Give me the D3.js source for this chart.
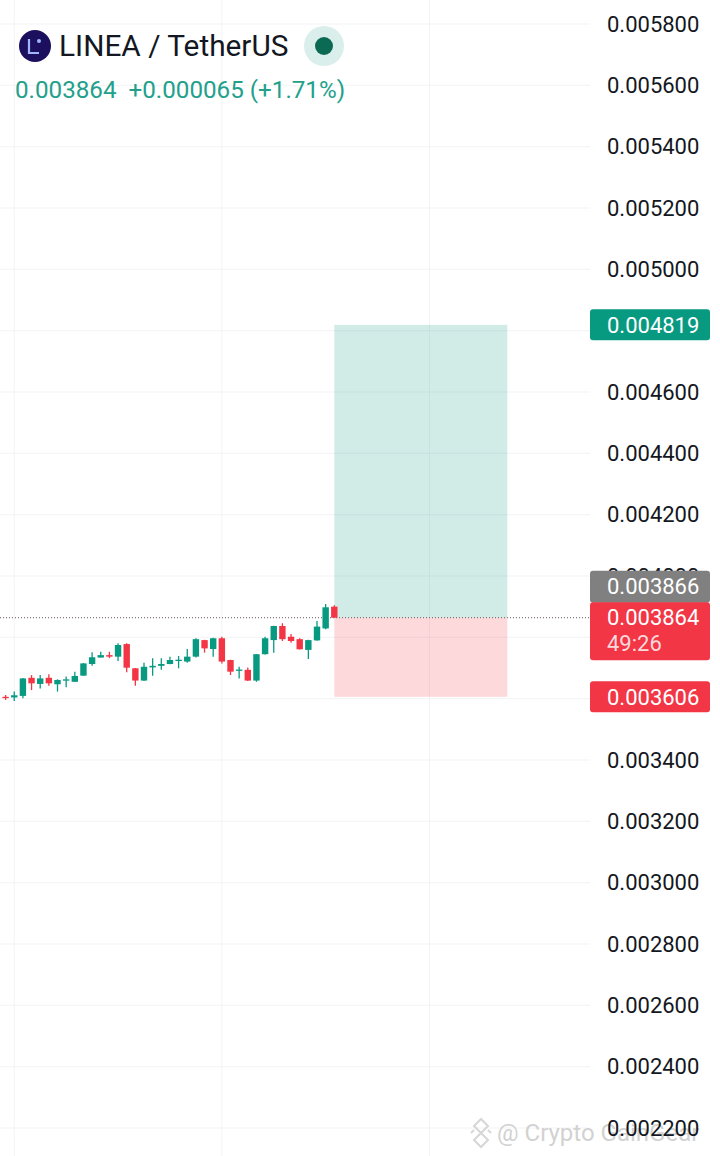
<!DOCTYPE html>
<html>
<head>
<meta charset="utf-8">
<script src="https://cdn.jsdelivr.net/npm/d3@7"></script>
<style>
  html, body { margin: 0; padding: 0; background: #fff; }
  svg { display: block; font-family: Roboto, "Noto Sans", sans-serif; }
</style>
</head>
<body>
<svg id="chart" width="720" height="1156"></svg>
<script>
// hourly candles
const opens  = [0.003606, 0.003604, 0.003609, 0.003668, 0.003648, 0.003668, 0.003647, 0.003661, 0.003655, 0.003675,
                0.003713, 0.003734, 0.003742, 0.003737, 0.003778, 0.003699, 0.003659, 0.003702, 0.003707, 0.003713,
                0.003725, 0.003721, 0.003737, 0.003791, 0.003762, 0.003797, 0.003726, 0.003693, 0.003694, 0.003659,
                0.003745, 0.003791, 0.003837, 0.003802, 0.003794, 0.003759, 0.003790, 0.003829, 0.003900];
const highs  = [0.003612, 0.003623, 0.003667, 0.003677, 0.003677, 0.003680, 0.003663, 0.003672, 0.003688, 0.003716,
                0.003751, 0.003753, 0.003753, 0.003781, 0.003781, 0.003700, 0.003717, 0.003732, 0.003732, 0.003737,
                0.003739, 0.003762, 0.003797, 0.003792, 0.003799, 0.003802, 0.003727, 0.003704, 0.003702, 0.003745,
                0.003802, 0.003838, 0.003846, 0.003811, 0.003797, 0.003792, 0.003853, 0.003909, 0.003905];
const lows   = [0.003596, 0.003592, 0.003601, 0.003628, 0.003633, 0.003642, 0.003623, 0.003637, 0.003655, 0.003675,
                0.003707, 0.003734, 0.003732, 0.003723, 0.003686, 0.003642, 0.003658, 0.003675, 0.003694, 0.003712,
                0.003699, 0.003717, 0.003734, 0.003750, 0.003737, 0.003715, 0.003677, 0.003666, 0.003658, 0.003655,
                0.003744, 0.003750, 0.003788, 0.003782, 0.003760, 0.003729, 0.003789, 0.003826, 0.003864];
const closes = [0.003604, 0.003611, 0.003666, 0.003650, 0.003666, 0.003650, 0.003661, 0.003663, 0.003674, 0.003715,
                0.003735, 0.003742, 0.003737, 0.003775, 0.003701, 0.003659, 0.003704, 0.003707, 0.003713, 0.003726,
                0.003727, 0.003737, 0.003794, 0.003764, 0.003797, 0.003721, 0.003688, 0.003695, 0.003659, 0.003745,
                0.003797, 0.003837, 0.003794, 0.003788, 0.003761, 0.003791, 0.003835, 0.003898, 0.003864];

const priceTicks = [0.0022, 0.0024, 0.0026, 0.0028, 0.0030, 0.0032, 0.0034, 0.0036, 0.0038, 0.0040,
                    0.0042, 0.0044, 0.0046, 0.0048, 0.0050, 0.0052, 0.0054, 0.0056, 0.0058];
// ticks that sit fully under a price label are not shown
const hiddenTicks = [0.0036, 0.0038, 0.0048];
const dayLines = [1, 25, 49];

// long position tool
const entryPrice = 0.003864;
const targetPrice = 0.004819;
const stopPrice = 0.003606;
const positionFrom = 38, positionTo = 58;

const lastPrice = 0.003864, prevLabel = 0.003866, countdown = "49:26";
const pairTitle = "LINEA / TetherUS";
const headerQuote = ["0.003864", "+0.000065 (+1.71%)"];

const green = "#089981", red = "#f23645";
const paneRight = 590;

const svg = d3.select("#chart");
const x = d3.scaleLinear().domain([0, 38]).range([5.6, 334.3]);
const y = d3.scaleLinear().domain([0.0022, 0.0058]).range([1128, 24]);

// grid
const grid = svg.append("g");
grid.selectAll("line.h").data(priceTicks).join("line")
    .attr("x1", 0).attr("x2", paneRight)
    .attr("y1", d => y(d)).attr("y2", d => y(d))
    .attr("stroke", "#f2f3f6").attr("stroke-width", 1);
grid.selectAll("line.v").data(dayLines).join("line")
    .attr("x1", d => x(d)).attr("x2", d => x(d))
    .attr("y1", 0).attr("y2", 1156)
    .attr("stroke", "#f2f3f6").attr("stroke-width", 1);

// watermark
const wm = svg.append("g").attr("fill", "none").attr("stroke", "#d6d6d6").attr("stroke-width", 2);
wm.append("path").attr("d", "M481,1119 L488,1126 L481,1133 L474,1126 Z M481,1133 L488,1140 L481,1147 L474,1140 Z M471,1133 L474,1130 M491,1133 L488,1130");
svg.append("text").attr("x", 497).attr("y", 1141)
    .attr("font-size", 24).attr("fill", "#d2d2d2")
    .text("@ Crypto GainGear");

// position box
const pos = svg.append("g");
pos.append("rect")
    .attr("x", x(positionFrom)).attr("width", x(positionTo) - x(positionFrom))
    .attr("y", y(targetPrice)).attr("height", y(entryPrice) - y(targetPrice))
    .attr("fill", green).attr("fill-opacity", 0.19);
pos.append("rect")
    .attr("x", x(positionFrom)).attr("width", x(positionTo) - x(positionFrom))
    .attr("y", y(entryPrice)).attr("height", y(stopPrice) - y(entryPrice))
    .attr("fill", red).attr("fill-opacity", 0.19);

// last price line
svg.append("line")
    .attr("x1", 0).attr("x2", paneRight)
    .attr("y1", y(lastPrice)).attr("y2", y(lastPrice))
    .attr("stroke", "#6a5a5e").attr("stroke-width", 1)
    .attr("stroke-dasharray", "1,2");

// candles
const idx = d3.range(opens.length);
const candles = svg.append("g").selectAll("g").data(idx).join("g")
    .attr("fill", i => closes[i] >= opens[i] ? green : red)
    .attr("stroke", i => closes[i] >= opens[i] ? green : red);
candles.append("line")
    .attr("x1", i => x(i)).attr("x2", i => x(i))
    .attr("y1", i => y(highs[i])).attr("y2", i => y(lows[i]))
    .attr("stroke-width", 1.3);
candles.append("rect")
    .attr("x", i => x(i) - 3.2).attr("width", 6.4)
    .attr("y", i => y(Math.max(opens[i], closes[i])))
    .attr("height", i => Math.max(1.3, Math.abs(y(opens[i]) - y(closes[i]))))
    .attr("stroke", "none");

// price axis
const axis = svg.append("g")
    .attr("transform", `translate(${paneRight + 10},0)`)
    .call(d3.axisRight(y)
        .tickValues(priceTicks.filter(d => !hiddenTicks.includes(d)))
        .tickFormat(d3.format(".6f")).tickSize(0).tickPadding(7));
axis.select(".domain").remove();
axis.selectAll("text")
    .attr("font-size", 22).attr("font-family", "Roboto, sans-serif").attr("fill", "#131722");

// axis labels
const fmt = d3.format(".6f");
function priceLabel(cy, h, fill, lines) {
    const g = svg.append("g");
    g.append("rect").attr("x", paneRight).attr("y", cy - 15.5).attr("width", 120).attr("height", h)
        .attr("rx", 3).attr("fill", fill);
    lines.forEach((t, k) => {
        g.append("text").attr("x", 607).attr("y", cy + k * 26).attr("dy", "0.35em")
            .attr("font-size", 22).attr("fill", "#fff").attr("fill-opacity", k ? 0.82 : 1).text(t);
    });
}
priceLabel(y(targetPrice), 31, green, [fmt(targetPrice)]);
priceLabel(y(lastPrice) - 31.5, 32, "#808080", [fmt(prevLabel)]);
priceLabel(y(lastPrice), 58, red, [fmt(lastPrice), countdown]);
priceLabel(y(stopPrice), 31, red, [fmt(stopPrice)]);

// header
const head = svg.append("g");
head.append("circle").attr("cx", 35).attr("cy", 46).attr("r", 16).attr("fill", "#1c0f5e");
head.append("path").attr("d", "M29,39 L29,53 L39,53").attr("fill", "none")
    .attr("stroke", "#9fb6ff").attr("stroke-width", 2.2);
head.append("circle").attr("cx", 39).attr("cy", 41).attr("r", 2).attr("fill", "#9fb6ff");
head.append("text").attr("x", 59).attr("y", 56)
    .attr("font-size", 29.8).attr("fill", "#131722").text(pairTitle);
head.append("circle").attr("cx", 324).attr("cy", 46).attr("r", 20).attr("fill", "#daefeb");
head.append("circle").attr("cx", 324).attr("cy", 46).attr("r", 9).attr("fill", "#0b6a53");
head.append("text").attr("x", 15).attr("y", 98)
    .attr("font-size", 24.2).attr("fill", "#22a08c")
    .attr("xml:space", "preserve")
    .text(headerQuote[0] + "  " + headerQuote[1]);
</script>
</body>
</html>
